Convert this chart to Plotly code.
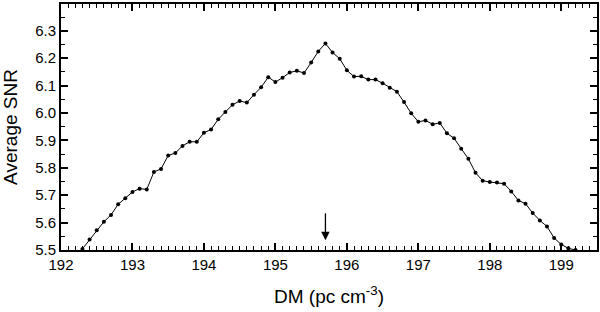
import plotly.graph_objects as go

dm = [192.3, 192.4, 192.5, 192.6, 192.7, 192.8, 192.9, 193.0, 193.1, 193.2,
      193.3, 193.4, 193.5, 193.6, 193.7, 193.8, 193.9, 194.0, 194.1, 194.2,
      194.3, 194.4, 194.5, 194.6, 194.7, 194.8, 194.9, 195.0, 195.1, 195.2,
      195.3, 195.4, 195.5, 195.6, 195.7, 195.8, 195.9, 196.0, 196.1, 196.2,
      196.3, 196.4, 196.5, 196.6, 196.7, 196.8, 196.9, 197.0, 197.1, 197.2,
      197.3, 197.4, 197.5, 197.6, 197.7, 197.8, 197.9, 198.0, 198.1, 198.2,
      198.3, 198.4, 198.5, 198.6, 198.7, 198.8, 198.9, 199.0, 199.1, 199.2]
snr = [5.504, 5.538, 5.572, 5.603, 5.628, 5.667, 5.689, 5.712, 5.724, 5.721,
       5.785, 5.796, 5.845, 5.854, 5.880, 5.895, 5.895, 5.928, 5.940, 5.977,
       6.004, 6.030, 6.044, 6.038, 6.067, 6.094, 6.131, 6.113, 6.129, 6.148,
       6.154, 6.146, 6.184, 6.225, 6.254, 6.221, 6.198, 6.156, 6.133, 6.134,
       6.122, 6.122, 6.109, 6.092, 6.078, 6.040, 5.999, 5.968, 5.973, 5.959,
       5.964, 5.926, 5.908, 5.870, 5.833, 5.782, 5.753, 5.748, 5.746, 5.742,
       5.714, 5.681, 5.669, 5.635, 5.608, 5.586, 5.544, 5.520, 5.506, 5.500]

y_ticks = [5.5, 5.6, 5.7, 5.8, 5.9, 6.0, 6.1, 6.2, 6.3]
x_ticks = [192, 193, 194, 195, 196, 197, 198, 199]

arrow_x = 195.7
arrow_tip = 5.536
arrow_tail = 5.64

fig = go.Figure()
fig.add_trace(go.Scatter(
    x=dm, y=snr, mode="lines+markers",
    line=dict(color="black", width=1),
    marker=dict(color="black", size=4),
    cliponaxis=True, showlegend=False,
))

fig.add_annotation(
    x=arrow_x, y=arrow_tip, ax=arrow_x, ay=arrow_tail,
    xref="x", yref="y", axref="x", ayref="y",
    showarrow=True, arrowhead=2, arrowsize=1.3, arrowwidth=1.3,
    arrowcolor="black", text="",
)

font = "Liberation Sans, Arial, Helvetica, sans-serif"
axis_common = dict(
    showline=True, linecolor="black", linewidth=1.8, mirror="allticks",
    ticks="inside", ticklen=7, tickwidth=1.5, tickcolor="black",
    showgrid=False, zeroline=False, automargin=False,
    tickfont=dict(family=font, size=15, color="black"),
)

fig.update_xaxes(
    range=[192, 199.5], tickvals=x_ticks,
    minor=dict(dtick=0.1, tick0=192, ticks="inside", ticklen=4, tickwidth=1.2, tickcolor="black"),
    title=dict(text="DM (pc cm<sup>-3</sup>)", font=dict(family=font, size=19, color="black"), standoff=18),
    **axis_common,
)
fig.update_yaxes(
    range=[5.5, 6.398], tickvals=y_ticks, tickformat=".1f",
    minor=dict(dtick=0.05, tick0=5.5, ticks="inside", ticklen=4, tickwidth=1.2, tickcolor="black"),
    title=dict(text="Average SNR", font=dict(family=font, size=19, color="black"), standoff=16),
    **axis_common,
)

fig.update_layout(
    width=600, height=312,
    margin=dict(l=61, r=3, t=4, b=62),
    paper_bgcolor="white", plot_bgcolor="white",
)

fig.write_html("out.html", config={"displayModeBar": False},
               post_script="document.body.style.margin='0';")
